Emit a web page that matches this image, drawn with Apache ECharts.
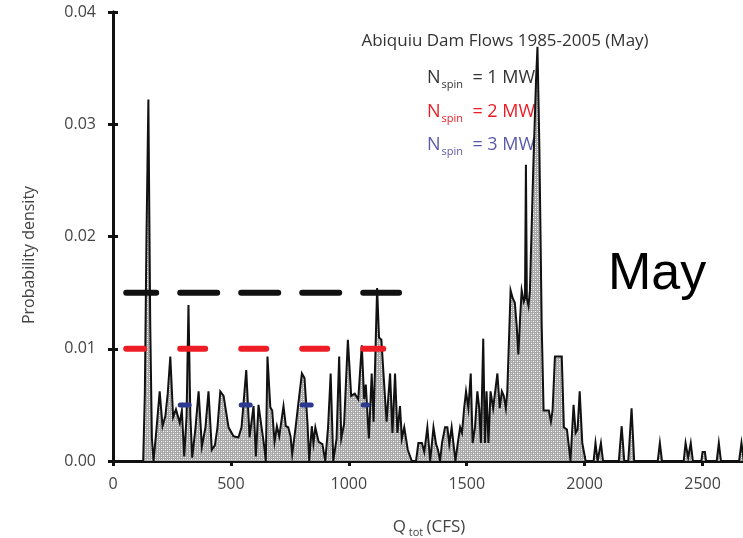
<!DOCTYPE html>
<html>
<head>
<meta charset="utf-8">
<script src="https://cdn.jsdelivr.net/npm/echarts@6/dist/echarts.min.js"></script>
<style>
html,body{margin:0;padding:0;background:#fff;}
#c{width:743px;height:538px;}
</style>
</head>
<body>
<div id="c"></div>
<script>
// Flow (CFS) and probability density
const flowQ = [0,128,135,142,150,158,165,172,185,198,210,222,232,243,255,267,283,292,302,312,320,328,336,350,363,377,392,405,419,432,443,455,469,490,511,532,545,553,565,579,596,606,617,630,640,648,655,667,675,685,695,705,723,733,743,753,760,775,788,801,812,825,832,843,850,858,872,888,900,912,923,934,948,959,968,980,996,1010,1025,1040,1055,1065,1072,1085,1097,1105,1112,1120,1128,1138,1147,1160,1175,1185,1196,1206,1217,1225,1235,1250,1267,1285,1295,1310,1320,1333,1345,1359,1370,1378,1387,1395,1408,1418,1426,1436,1444,1452,1462,1472,1480,1489,1497,1507,1517,1525,1535,1545,1553,1560,1570,1577,1584,1592,1601,1612,1620,1630,1640,1649,1657,1666,1672,1686,1695,1704,1712,1719,1727,1733,1742,1747,1751,1755,1762,1768,1782,1794,1800,1808,1818,1826,1839,1848,1857,1864,1874,1903,1912,1925,1940,1953,1962,1970,1979,1990,1998,2004,2038,2046,2055,2062,2069,2078,2145,2157,2168,2185,2199,2210,2310,2319,2328,2420,2428,2439,2450,2459,2495,2500,2510,2515,2560,2569,2578,2655,2665,2675];
const density = [0,0,0.006,0.02,0.0322,0.012,0.002,0,0.003,0.0062,0.0031,0.004,0.006,0.0093,0.0039,0.0046,0.0034,0.0045,0.0004,0.004,0.0139,0.004,0.0003,0.003,0.0062,0.0013,0.003,0.0062,0.001,0.0014,0.003,0.0062,0.0058,0.003,0.0022,0.0021,0.003,0.005,0.0081,0.0021,0.0049,0.0004,0.005,0.003,0.0015,0,0.0093,0.0048,0.0045,0.0017,0.0031,0.0022,0.0049,0.0031,0.003,0.0022,0.0006,0.0031,0.0055,0.0078,0.0074,0.0033,0,0.0031,0.0016,0.003,0.0017,0.0015,0,0.003,0.0078,0,0.002,0.0093,0.002,0.0033,0.0108,0.0058,0.006,0.0055,0.0103,0.0055,0.0068,0.002,0.0078,0.0035,0.009,0.0154,0.011,0.0108,0.0078,0.0035,0.0078,0.0025,0.0078,0.0025,0.0049,0.002,0.003,0.001,0,0,0.0016,0.0016,0.0008,0.003,0,0.003,0.0015,0.001,0,0.0016,0.003,0.003,0.0015,0.003,0.0015,0,0.0016,0.003,0.0025,0.0047,0.0062,0.0047,0.0078,0.0016,0.003,0.0062,0.0047,0.0016,0.0109,0.0016,0.0062,0.0016,0.0062,0.0047,0.0047,0.0078,0.0047,0.0062,0.0058,0.0047,0.0062,0.0152,0.0145,0.0141,0.012,0.0095,0.013,0.0152,0.0142,0.0145,0.0264,0.0145,0.0138,0.0152,0.026,0.034,0.0369,0.028,0.012,0.0045,0.0045,0.0045,0.0035,0.0045,0.0093,0.0093,0.003,0.0028,0,0.005,0.0025,0.0028,0.0062,0.0016,0.0016,0,0,0.0016,0,0,0.0016,0,0,0.0031,0,0,0.0047,0,0,0.0016,0,0,0.0016,0.0003,0.0016,0,0,0.0008,0.0008,0,0,0.0016,0,0,0.0016,0];

// Threshold lines: N_spin = 1, 2, 3 MW
const spinLevels = [0.015, 0.010, 0.005];
const spinStartQ = [56, 56, 285];
const spinEndQ = [1213, 1146, 1080];
const spinNames = ['Nspin = 1 MW', 'Nspin = 2 MW', 'Nspin = 3 MW'];

const xTicks = [0, 500, 1000, 1500, 2000, 2500];
const yTicks = [0, 0.01, 0.02, 0.03, 0.04];

// dotted fill pattern
const pc = document.createElement('canvas');
pc.width = 4; pc.height = 4;
const g = pc.getContext('2d');
g.fillStyle = '#a8a8a8'; g.fillRect(0,0,4,4);
g.fillStyle = '#ffffff';
g.fillRect(1,1,1,1); g.fillRect(3,3,1,1);
g.fillStyle = '#d4d4d4';
g.fillRect(3,1,1,1); g.fillRect(1,3,1,1);

const chart = echarts.init(document.getElementById('c'), null, {renderer:'canvas'});
const F = '"Open Sans", Lato, sans-serif';
const txt = '#444';

const spinColors = ['#111111', '#ee1c25', '#2b3990'];
const spinWidth = [6, 6, 5];
const spinDash = [[37,24],[25,36],[9,52]];
const spinOffset = [7, 7, 0];

const series = [{
  type:'line', data: flowQ.map((q,i)=>[q, density[i]]),
  symbol:'none', xAxisIndex:0, yAxisIndex:0,
  lineStyle:{color:'#111', width:2, join:'miter'},
  areaStyle:{color:{image:pc, repeat:'repeat'}, opacity:1},
  z:2, silent:true
}];
spinLevels.forEach((lv,i)=>{
  series.push({
    type:'line', name: spinNames[i],
    data:[[spinStartQ[i], lv],[spinEndQ[i], lv]],
    symbol:'none', z:5, silent:true,
    lineStyle:{color:spinColors[i], width:spinWidth[i], type:spinDash[i], dashOffset:spinOffset[i], cap:'round'}
  });
});

const legendRich = c => ({
  n:{fontFamily:F,fontSize:18,fill:c},
  s:{fontFamily:F,fontSize:11,fill:c,padding:[14,0,0,1]},
  e:{fontFamily:F,fontSize:18,fill:c}
});

chart.setOption({
  animation:false,
  backgroundColor:'#fff',
  grid:{left:113, right:-2, top:12, bottom:77, containLabel:false, outerBoundsMode:'none'},
  title:{
    text:'Abiquiu Dam Flows 1985-2005 (May)',
    left:500, top:28, textAlign:'center',
    textStyle:{fontFamily:F, fontSize:17, fontWeight:'normal', color:'#333'}
  },
  xAxis:[{
    type:'value', min:0, max:2680, interval:500, position:'bottom',
    axisLine:{lineStyle:{color:'#111', width:3}},
    axisTick:{inside:true, length:5, lineStyle:{color:'#111', width:3}},
    axisLabel:{fontFamily:F, fontSize:16, color:txt, margin:15, formatter:v=>xTicks.includes(v)?String(v):''},
    splitLine:{show:false},
    name:'{q|Q}{s| tot} {p|(CFS)}', nameLocation:'middle', nameGap:55,
    nameTextStyle:{rich:{q:{fontFamily:F,fontSize:17,color:txt},s:{fontFamily:F,fontSize:11,color:txt,padding:[11,0,0,0]},p:{fontFamily:F,fontSize:17,color:txt}}}
  },{
    type:'value', min:0, max:2680, interval:500, position:'top',
    axisLine:{lineStyle:{color:'#111', width:3}},
    axisTick:{inside:true, length:5, lineStyle:{color:'#111', width:3}},
    axisLabel:{show:false}, splitLine:{show:false}
  }],
  yAxis:[{
    type:'value', min:0, max:0.04, interval:0.01,
    axisLine:{show:true, lineStyle:{color:'#111', width:3}},
    axisTick:{show:true, inside:true, length:5, lineStyle:{color:'#111', width:3}},
    axisLabel:{fontFamily:F, fontSize:16, color:txt, margin:17, formatter:v=>v.toFixed(2)},
    splitLine:{show:false}
  },{
    type:'value', min:0, max:0.04, interval:0.01, position:'right',
    axisLine:{show:true, lineStyle:{color:'#111', width:3}},
    axisTick:{show:true, inside:true, length:5, lineStyle:{color:'#111', width:3}},
    axisLabel:{show:false}, splitLine:{show:false}
  }],
  series: series,
  graphic:[
    {type:'text', x:29, y:255, rotation:Math.PI/2, silent:true, style:{
      text:'Probability density', fontFamily:F, fontSize:16, fill:txt, align:'center', verticalAlign:'middle'}},
    {type:'text', left:427, top:69, silent:true, style:{text:'{n|N}{s|spin}{e|  = 1 MW}', rich:legendRich('#333')}},
    {type:'text', left:427, top:103, silent:true, style:{text:'{n|N}{s|spin}{e|  = 2 MW}', rich:legendRich('#ee1c25')}},
    {type:'text', left:427, top:136, silent:true, style:{text:'{n|N}{s|spin}{e|  = 3 MW}', rich:legendRich('#5a5aa8')}},
    {type:'text', left:608, top:249, silent:true, style:{
      text:'May', fontFamily:'"Liberation Sans", Arial, sans-serif', fontSize:52, fill:'#000'}}
  ]
});
</script>
</body>
</html>
